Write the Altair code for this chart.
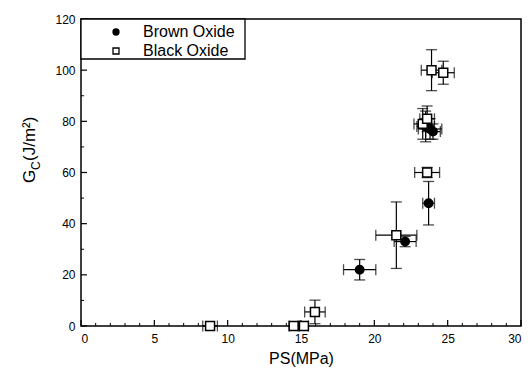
import altair as alt
import pandas as pd

# ---- data ----
series_names = ["Brown Oxide", "Black Oxide"]

brown_x = [19.0, 22.1, 23.7, 23.5, 23.8, 24.0]
brown_y = [22, 33, 48, 78, 77, 76]
brown_xerr = [1.1, 0.75, 0.4, 0.6, 0.8, 0.5]
brown_yerr = [4, 2, 8.5, 6, 4, 3]

black_x = [8.8, 14.5, 15.2, 15.95, 21.5, 23.6, 23.3, 23.6, 23.9, 24.7]
black_y = [0, 0, 0, 5.5, 35.5, 60, 79, 81, 100, 99]
black_xerr = [0.5, 0.3, 0.3, 0.7, 1.4, 0.85, 0.6, 0.5, 0.7, 0.75]
black_yerr = [0, 0, 0, 4.6, 13, 2, 6, 5, 8, 4.5]

x_ticks = [0, 5, 10, 15, 20, 25, 30]
y_ticks = [0, 20, 40, 60, 80, 100, 120]
x_minor = list(range(0, 31))
y_minor = list(range(0, 121, 10))

FONT = "Liberation Sans"
W, H = 440, 307

rows = []
for xs_, ys_, xe, ye, name in [
    (brown_x, brown_y, brown_xerr, brown_yerr, series_names[0]),
    (black_x, black_y, black_xerr, black_yerr, series_names[1]),
]:
    for a, b, c, d in zip(xs_, ys_, xe, ye):
        rows.append({"series": name, "x": a, "y": b, "xerr": c, "yerr": d})
df = pd.DataFrame(rows)

xs = alt.Scale(domain=[0, 30], nice=False)
ys = alt.Scale(domain=[0, 120], nice=False)
shape_scale = alt.Scale(domain=series_names, range=["circle", "square"])
fill_scale = alt.Scale(domain=series_names, range=["black", "white"])

base = alt.Chart(df).transform_calculate(
    xlo="datum.x - datum.xerr", xhi="datum.x + datum.xerr",
    ylo="datum.y - datum.yerr", yhi="datum.y + datum.yerr",
)

xaxis = alt.Axis(values=x_ticks, tickSize=0, labelPadding=7, labelFontSize=12,
                 labelFont=FONT, title="PS(MPa)", titleFont=FONT, titleFontSize=16,
                 titleFontWeight="normal", titlePadding=6, grid=False, domain=False,
                 labelColor="black", titleColor="black")
yaxis = alt.Axis(values=y_ticks, tickSize=0, labelPadding=6, labelFontSize=12,
                 labelFont=FONT, title=None, grid=False, domain=False, labelColor="black")

xbar = base.mark_rule(color="black", strokeWidth=1.2).encode(
    x=alt.X("xlo:Q", scale=xs, axis=xaxis), x2="xhi:Q", y=alt.Y("y:Q", scale=ys, axis=yaxis))
ybar = base.mark_rule(color="black", strokeWidth=1.2).encode(
    x=alt.X("x:Q", scale=xs), y=alt.Y("ylo:Q", scale=ys), y2="yhi:Q")
xcap_lo = base.mark_tick(color="black", orient="vertical", size=11, thickness=1.3).encode(
    x=alt.X("xlo:Q", scale=xs), y=alt.Y("y:Q", scale=ys))
xcap_hi = base.mark_tick(color="black", orient="vertical", size=11, thickness=1.3).encode(
    x=alt.X("xhi:Q", scale=xs), y=alt.Y("y:Q", scale=ys))
ycap_lo = base.mark_tick(color="black", orient="horizontal", size=11, thickness=1.3).encode(
    x=alt.X("x:Q", scale=xs), y=alt.Y("ylo:Q", scale=ys))
ycap_hi = base.mark_tick(color="black", orient="horizontal", size=11, thickness=1.3).encode(
    x=alt.X("x:Q", scale=xs), y=alt.Y("yhi:Q", scale=ys))

points = base.mark_point(filled=False, strokeWidth=1.5, opacity=1, stroke="black").encode(
    x=alt.X("x:Q", scale=xs), y=alt.Y("y:Q", scale=ys),
    shape=alt.Shape("series:N", scale=shape_scale, legend=None),
    fill=alt.Fill("series:N", scale=fill_scale, legend=None),
    size=alt.Size("series:N", scale=alt.Scale(domain=series_names, range=[70, 80]), legend=None),
)

# inward tick marks
xmin_df = pd.DataFrame({"v": [v for v in x_minor if v % 5 != 0]})
xmaj_df = pd.DataFrame({"v": x_ticks})
ymin_df = pd.DataFrame({"v": [v for v in y_minor if v % 20 != 0]})
ymaj_df = pd.DataFrame({"v": y_ticks})

tx_min = alt.Chart(xmin_df).mark_rule(color="black", strokeWidth=1).encode(
    x=alt.X("v:Q", scale=xs), y=alt.value(H), y2=alt.value(H - 3))
tx_maj = alt.Chart(xmaj_df).mark_rule(color="black", strokeWidth=1.2).encode(
    x=alt.X("v:Q", scale=xs), y=alt.value(H), y2=alt.value(H - 6))
ty_min = alt.Chart(ymin_df).mark_rule(color="black", strokeWidth=1).encode(
    y=alt.Y("v:Q", scale=ys), x=alt.value(0), x2=alt.value(3))
ty_maj = alt.Chart(ymaj_df).mark_rule(color="black", strokeWidth=1.2).encode(
    y=alt.Y("v:Q", scale=ys), x=alt.value(0), x2=alt.value(6))

# legend box (drawn by hand, top-left inside the frame)
leg_box = alt.Chart(pd.DataFrame({"k": [0]})).mark_rect(
    fill="white", stroke="black", strokeWidth=1.3
).encode(x=alt.value(0), x2=alt.value(164), y=alt.value(0), y2=alt.value(40))

leg_layers = []
for name, row, shp, fil in [(series_names[0], 13, "circle", "black"),
                            (series_names[1], 32, "square", "white")]:
    one = pd.DataFrame({"series": [name]})
    leg_layers.append(alt.Chart(one).mark_point(
        shape=shp, fill=fil, filled=False, stroke="black", strokeWidth=1.3, opacity=1, size=36
    ).encode(x=alt.value(35), y=alt.value(row)))
    leg_layers.append(alt.Chart(one).mark_text(
        align="left", baseline="middle", font=FONT, fontSize=16, color="black"
    ).encode(x=alt.value(62), y=alt.value(row), text="series:N"))

# y title: G with subscript C, then (J/m²)
t_g = alt.Chart(pd.DataFrame({"t": ["G"]})).mark_text(
    angle=270, align="left", baseline="alphabetic", font=FONT, fontSize=17, color="black"
).encode(text="t:N", x=alt.value(-46), y=alt.value(164))
t_c = alt.Chart(pd.DataFrame({"t": ["C"]})).mark_text(
    angle=270, align="left", baseline="alphabetic", font=FONT, fontSize=12, color="black"
).encode(text="t:N", x=alt.value(-41), y=alt.value(151))
t_rest = alt.Chart(pd.DataFrame({"t": ["(J/m²)"]})).mark_text(
    angle=270, align="left", baseline="alphabetic", font=FONT, fontSize=17, color="black"
).encode(text="t:N", x=alt.value(-46), y=alt.value(142))

chart = alt.layer(
    xbar, ybar, xcap_lo, xcap_hi, ycap_lo, ycap_hi,
    tx_min, tx_maj, ty_min, ty_maj, points,
    leg_box, *leg_layers, t_g, t_c, t_rest,
).properties(
    width=W, height=H,
    autosize=alt.AutoSizeParams(type="none"),
    padding={"left": 81, "top": 19, "right": 10, "bottom": 44},
).configure(background="white").configure_view(stroke="black", strokeWidth=1.5)

chart.save("out.html", embed_options={"renderer": "svg", "actions": False})
